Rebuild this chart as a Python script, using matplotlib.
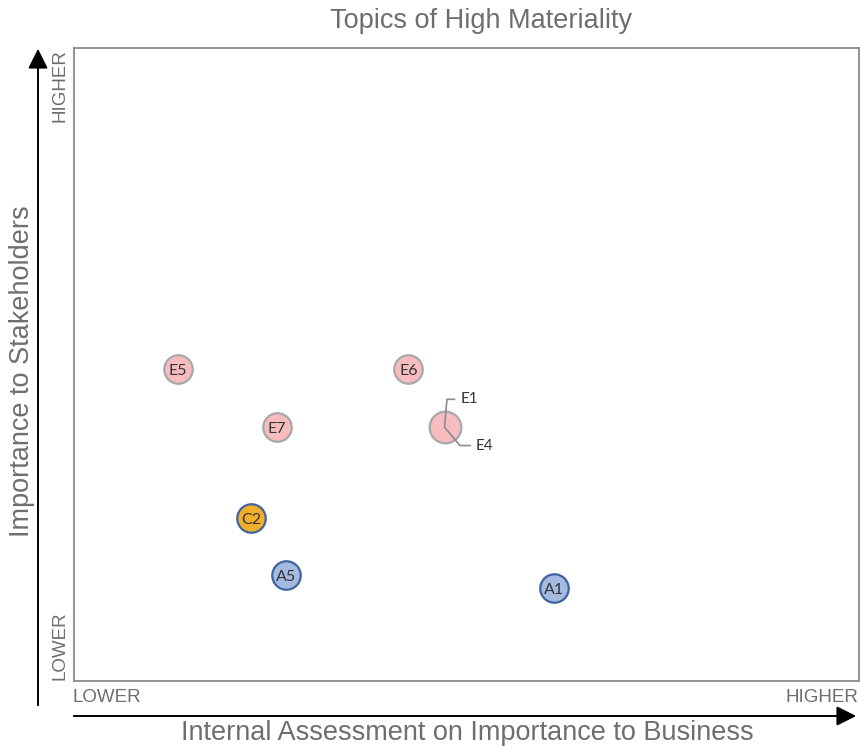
import matplotlib
matplotlib.use('Agg')
from matplotlib import pyplot as plt

plt.rcParams['font.family'] = ['Liberation Sans', 'DejaVu Sans']

# topic codes and their scores (0-10 on both axes)
topics = ['E5', 'E6', 'E7', 'C2', 'A5', 'A1']
business = [1.32, 4.26, 2.58, 2.26, 2.70, 6.11]
stakeholders = [4.93, 4.93, 4.01, 2.57, 1.68, 1.47]
groups = ['E', 'E', 'E', 'C', 'A', 'A']

# two topics sitting on the same spot
shared_codes = ['E1', 'E4']
shared_business = 4.72
shared_stakeholders = 4.01

fills = {'E': '#f6bcc0', 'C': '#f3ae2a', 'A': '#a4badf'}
edges = {'E': '#a8a8a8', 'C': '#3f64a0', 'A': '#3f64a0'}
code_font = ['Lato', 'DejaVu Sans']

fig = plt.figure(figsize=(8.6, 7.47), dpi=100)
ax = fig.add_axes([74 / 860, 66 / 747, 785 / 860, 633 / 747])
ax.set_xlim(0, 10)
ax.set_ylim(0, 10)
ax.set_xticks([])
ax.set_yticks([])
for side in ax.spines.values():
    side.set_color('#8a8a8a')
    side.set_linewidth(1.3)

for code, bx, sy, g in zip(topics, business, stakeholders, groups):
    ax.scatter(bx, sy, s=420, color=fills[g], edgecolors=edges[g], linewidths=1.6, zorder=3)
    ax.text(bx, sy - 0.03, code, ha='center', va='center', fontsize=11.5, color='#333333',
            family=code_font, zorder=4)

ax.scatter(shared_business, shared_stakeholders, s=520, color=fills['E'],
           edgecolors=edges['E'], linewidths=1.6, zorder=3)
# leader lines for the overlapping pair
ax.annotate(shared_codes[0], xy=(shared_business, shared_stakeholders),
            xytext=(shared_business + 0.2, shared_stakeholders + 0.44),
            fontsize=11, color='#333333', va='center', family=code_font,
            arrowprops=dict(arrowstyle='-', color='#8c8c8c', lw=1.2,
                            connectionstyle='angle,angleA=0,angleB=85,rad=0',
                            shrinkA=2, shrinkB=0), zorder=4)
ax.annotate(shared_codes[1], xy=(shared_business, shared_stakeholders),
            xytext=(shared_business + 0.4, shared_stakeholders - 0.29),
            fontsize=11, color='#333333', va='center', family=code_font,
            arrowprops=dict(arrowstyle='-', color='#8c8c8c', lw=1.2,
                            connectionstyle='angle,angleA=0,angleB=-50,rad=0',
                            shrinkA=2, shrinkB=0), zorder=4)

grey = '#6e6e6e'
fig.text(481 / 860, 1 - 21 / 747, 'Topics of High Materiality', ha='center', va='center',
         fontsize=19.5, color=grey)
fig.text(467 / 860, 1 - 733 / 747, 'Internal Assessment on Importance to Business',
         ha='center', va='center', fontsize=19.5, color=grey)
fig.text(22 / 860, 1 - 371 / 747, 'Importance to Stakeholders', ha='center', va='center',
         rotation=90, fontsize=19.5, color=grey)

fig.text(60 / 860, 1 - 86 / 747, 'HIGHER', ha='center', va='center', rotation=90,
         fontsize=13.5, color=grey)
fig.text(60 / 860, 1 - 646 / 747, 'LOWER', ha='center', va='center', rotation=90,
         fontsize=13.5, color=grey)
fig.text(72 / 860, 1 - 698 / 747, 'LOWER', ha='left', va='center', fontsize=13.5, color=grey)
fig.text(858 / 860, 1 - 698 / 747, 'HIGHER', ha='right', va='center', fontsize=13.5, color=grey)

# axis arrows
fig.add_artist(matplotlib.patches.FancyArrowPatch(
    (38 / 860, 1 - 708 / 747), (38 / 860, 1 - 46 / 747), transform=fig.transFigure,
    arrowstyle='-|>,head_length=8,head_width=4', mutation_scale=1.5, color='black', lw=1.4))
fig.add_artist(matplotlib.patches.FancyArrowPatch(
    (71 / 860, 1 - 716 / 747), (859 / 860, 1 - 716 / 747), transform=fig.transFigure,
    arrowstyle='-|>,head_length=8,head_width=4', mutation_scale=1.5, color='black', lw=1.4))

fig.savefig('out.png', dpi=100)
